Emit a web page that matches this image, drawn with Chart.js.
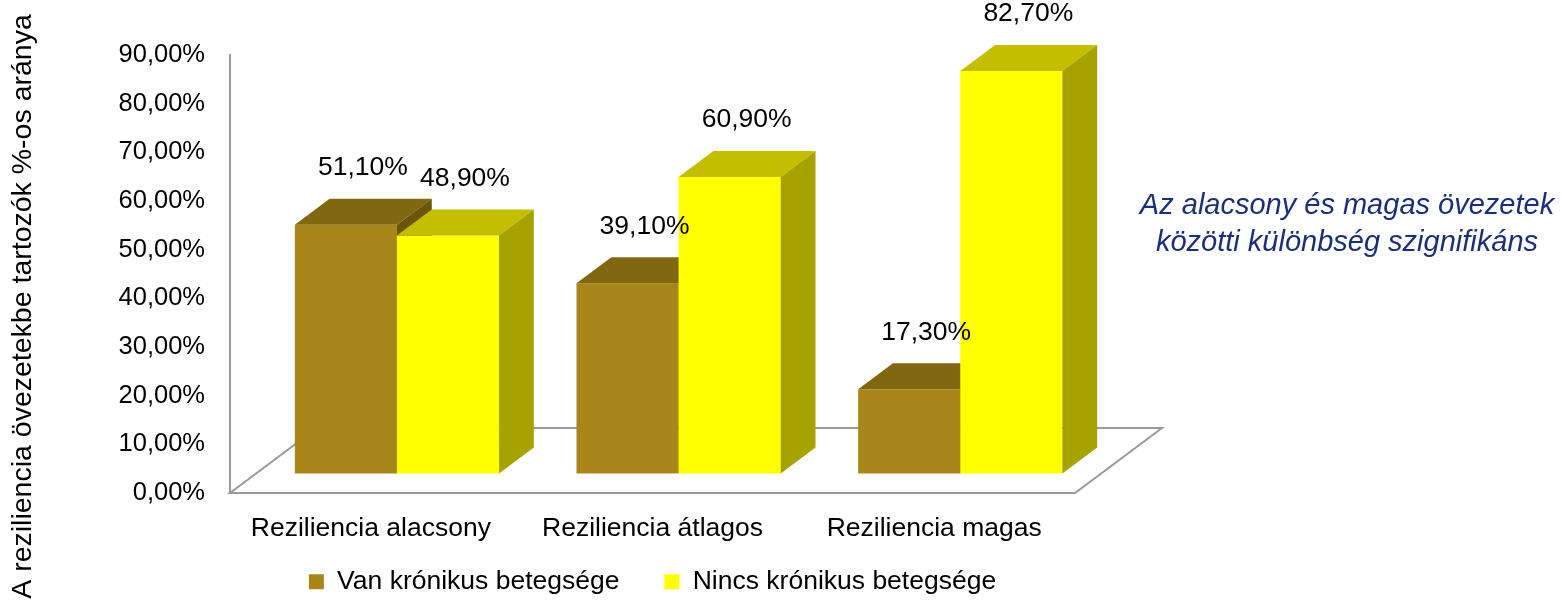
<!DOCTYPE html>
<html>
<head>
<meta charset="utf-8">
<script src="https://cdn.jsdelivr.net/npm/chart.js@4.4.1/dist/chart.umd.min.js"></script>
<style>
  html, body { margin: 0; padding: 0; background: #fff; }
  #wrap { width: 1562px; height: 609px; }
</style>
</head>
<body>
<div id="wrap"><canvas id="chart" width="1562" height="609"></canvas></div>
<script>
const categories = ['Reziliencia alacsony', 'Reziliencia átlagos', 'Reziliencia magas'];
const seriesNames = ['Van krónikus betegsége', 'Nincs krónikus betegsége'];
const vanValues = [51.1, 39.1, 17.3];
const nincsValues = [48.9, 60.9, 82.7];
const yTicks = [0, 10, 20, 30, 40, 50, 60, 70, 80, 90];
const axisTitle = 'A reziliencia övezetekbe tartozók %-os aránya';
const noteLines = ['Az alacsony és magas övezetek', 'közötti különbség szignifikáns'];

const FONT = 'Liberation Sans, Arial, sans-serif';
// 3d look: floor depth in px, bars sit between 30% and 70% of it
const DEPTH_X = 87, DEPTH_Y = 65;
const BAR_FRONT = 0.3, BAR_DEEP = 0.4;
const faces = [
  { front: '#a8861a', top: '#816710', side: '#6b550b' },
  { front: '#ffff00', top: '#c4be00', side: '#a6a200' },
];

function pct(v) {
  return v.toFixed(2).replace('.', ',') + '%';
}

function poly(ctx, pts) {
  ctx.beginPath();
  ctx.moveTo(pts[0][0], pts[0][1]);
  pts.slice(1).forEach(p => ctx.lineTo(p[0], p[1]));
  ctx.closePath();
  ctx.fill();
}

const boxes3d = {
  id: 'boxes3d',
  beforeDatasetsDraw(chart) {
    const { ctx, chartArea: a } = chart;
    ctx.save();

    // floor
    ctx.strokeStyle = '#9a9a9a';
    ctx.lineWidth = 2;
    ctx.beginPath();
    ctx.moveTo(a.left, a.bottom);
    ctx.lineTo(a.right, a.bottom);
    ctx.lineTo(a.right + DEPTH_X, a.bottom - DEPTH_Y);
    ctx.lineTo(a.left + DEPTH_X, a.bottom - DEPTH_Y);
    ctx.closePath();
    ctx.stroke();

    const ox = DEPTH_X * BAR_FRONT, oy = DEPTH_Y * BAR_FRONT;
    const dx = DEPTH_X * BAR_DEEP, dy = DEPTH_Y * BAR_DEEP;
    const metas = chart.data.datasets.map((d, i) => chart.getDatasetMeta(i));

    categories.forEach((c, j) => {
      metas.forEach((m, i) => {
        const bar = m.data[j];
        const L = bar.x - bar.width / 2 + ox, R = bar.x + bar.width / 2 + ox;
        const T = bar.y - oy, B = bar.base - oy;
        const f = faces[i];
        ctx.fillStyle = f.front;
        ctx.fillRect(L, T, R - L, B - T);
        ctx.fillStyle = f.top;
        poly(ctx, [[L, T], [L + dx, T - dy], [R + dx, T - dy], [R, T]]);
        ctx.fillStyle = f.side;
        poly(ctx, [[R, T], [R + dx, T - dy], [R + dx, B - dy], [R, B]]);
      });
    });

    // value labels
    ctx.fillStyle = '#000';
    ctx.font = '26.5px ' + FONT;
    ctx.textAlign = 'center';
    ctx.textBaseline = 'middle';
    metas.forEach((m, i) => {
      const vals = chart.data.datasets[i].data;
      m.data.forEach((bar, j) => {
        ctx.fillText(pct(vals[j]), bar.x + ox + 17, bar.y - oy - 57);
      });
    });

    ctx.restore();
    return false;
  },
  afterDraw(chart) {
    const { ctx } = chart;
    ctx.save();
    ctx.fillStyle = '#1b2f78';
    ctx.font = 'italic 29px ' + FONT;
    ctx.textAlign = 'center';
    ctx.textBaseline = 'middle';
    noteLines.forEach((t, i) => ctx.fillText(t, 1347, 206 + i * 37));
    ctx.restore();
  }
};

const LEGEND_PAD = 45;
const LEGEND_FONT = 26.5;

new Chart(document.getElementById('chart'), {
  type: 'bar',
  data: {
    labels: categories,
    datasets: [
      { label: seriesNames[0], data: vanValues, backgroundColor: faces[0].front, borderWidth: 0 },
      { label: seriesNames[1], data: nincsValues, backgroundColor: faces[1].front, borderWidth: 0 },
    ],
  },
  options: {
    responsive: false,
    animation: false,
    devicePixelRatio: 1,
    categoryPercentage: 0.725,
    barPercentage: 1,
    layout: { padding: { top: 8, right: 487, bottom: 4, left: 0 } },
    scales: {
      x: {
        grid: { display: false, drawTicks: false },
        border: { display: false },
        // mirror + negative padding keeps the labels below the axis without clipping
        ticks: { color: '#000', font: { family: FONT, size: 26.5 }, mirror: true, padding: -52, maxRotation: 0 },
        afterFit: s => { s.height = 609 - 4 - (LEGEND_FONT + LEGEND_PAD + 10) - 493; },
      },
      y: {
        min: 0,
        max: 90,
        grid: { display: false, drawTicks: false },
        border: { display: true, color: '#9a9a9a', width: 2 },
        afterBuildTicks: s => { s.ticks = yTicks.map(v => ({ value: v })); },
        ticks: {
          color: '#000',
          font: { family: FONT, size: 25.5 },
          padding: 25,
          callback: v => pct(v),
        },
        afterFit: s => { s.width = 230 - 40.2; s.paddingTop = 55; },
      },
    },
    plugins: {
      title: {
        display: true,
        position: 'left',
        text: axisTitle,
        color: '#000',
        font: { family: FONT, size: 28.5, weight: 'normal' },
        padding: { top: 6, bottom: 0 },
      },
      legend: {
        position: 'bottom',
        fullSize: false,
        labels: {
          color: '#000',
          font: { family: FONT, size: LEGEND_FONT },
          boxWidth: 15,
          boxHeight: 15,
          padding: LEGEND_PAD,
        },
      },
      tooltip: { enabled: false },
    },
  },
  plugins: [boxes3d],
});
</script>
</body>
</html>
